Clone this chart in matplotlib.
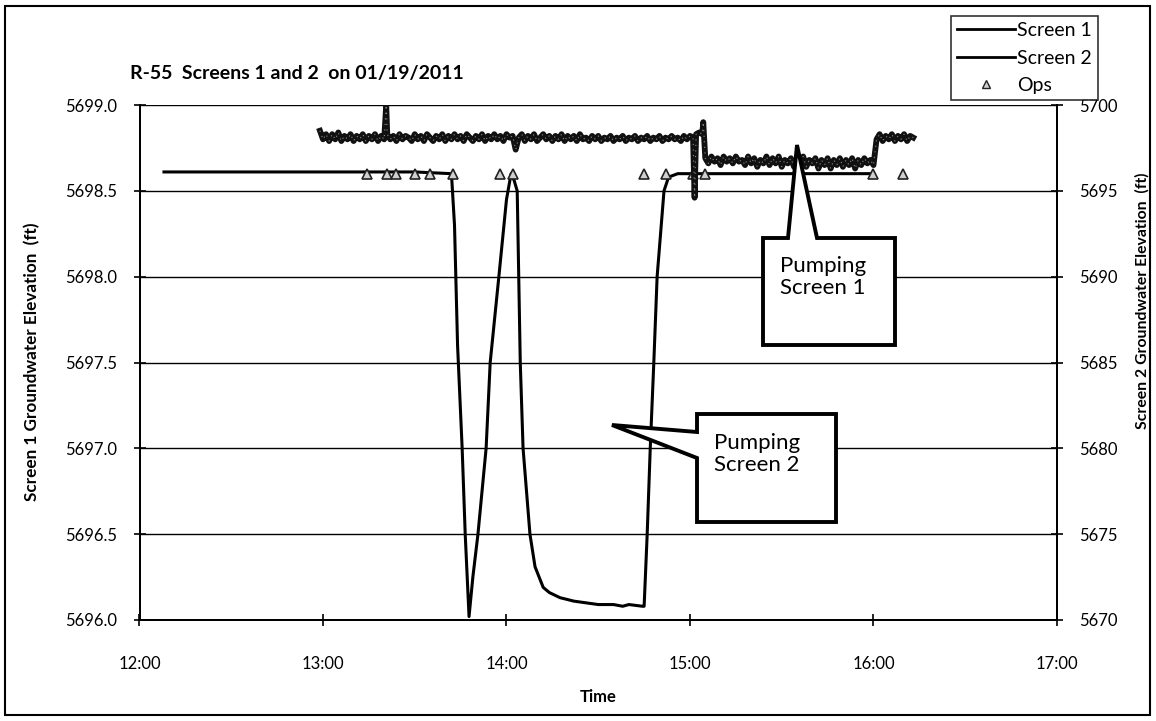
import numpy as np
import matplotlib
matplotlib.use("Agg")
import matplotlib.pyplot as plt
from matplotlib.patches import Polygon, Rectangle
from matplotlib.lines import Line2D

plt.rcParams['font.family'] = ['Lato', 'DejaVu Sans']

# ---- data ----
title = "R-55  Screens 1 and 2  on 01/19/2011"

# Screen 1 (left axis), times as HH:MM:SS
s1_times = ["12:08:00", "12:30:00", "13:00:00", "13:30:00", "13:42:00", "13:43:00",
            "13:44:00", "13:45:30", "13:46:30", "13:47:45", "13:49:00", "13:50:40",
            "13:53:20", "13:54:40", "13:57:30", "14:00:00", "14:01:30", "14:02:30",
            "14:03:30", "14:04:00", "14:04:30", "14:05:25", "14:07:40", "14:09:20",
            "14:12:00", "14:14:00", "14:17:30", "14:22:00", "14:26:00", "14:30:00",
            "14:35:00", "14:38:00", "14:40:00", "14:44:30", "14:45:00", "14:46:00",
            "14:47:00", "14:48:10", "14:49:15", "14:51:30", "14:53:00", "14:56:00",
            "15:00:00", "15:30:00", "16:00:00"]
s1_vals = [5698.61, 5698.61, 5698.61, 5698.61, 5698.60, 5698.30,
           5697.60, 5697.00, 5696.50, 5696.02, 5696.25, 5696.50,
           5697.00, 5697.50, 5698.00, 5698.45, 5698.60, 5698.56,
           5698.50, 5698.00, 5697.50, 5697.00, 5696.50, 5696.31,
           5696.19, 5696.16, 5696.13, 5696.11, 5696.10, 5696.09,
           5696.09, 5696.08, 5696.09, 5696.08, 5696.08, 5696.50,
           5697.00, 5697.50, 5698.00, 5698.50, 5698.58, 5698.60,
           5698.60, 5698.60, 5698.60]

# Screen 2 (right axis), one reading per minute starting 12:59
s2_start = "12:59:00"
s2_vals = [
    # 12:59 - 13:20
    5698.5, 5698.0, 5698.3, 5697.9, 5698.3, 5698.0, 5698.4, 5697.9, 5698.2, 5698.0,
    5698.3, 5697.9, 5698.2, 5698.0, 5698.3, 5697.9, 5698.2, 5698.0, 5698.3, 5697.9,
    5698.2, 5698.0,
    # 13:21 - 14:00
    5698.3, 5698.0, 5698.2, 5697.9, 5698.3, 5698.0, 5698.2, 5698.1, 5697.9, 5698.3,
    5698.0, 5698.2, 5697.9, 5698.3, 5698.1, 5697.9, 5698.2, 5698.0, 5698.3, 5697.9,
    5698.2, 5698.0, 5698.3, 5698.0, 5698.2, 5697.9, 5698.3, 5698.1, 5697.9, 5698.2,
    5698.0, 5698.3, 5697.9, 5698.2, 5698.0, 5698.3, 5698.0, 5698.2, 5697.9, 5698.3,
    # 14:01 - 14:40
    5698.1, 5698.2, 5697.4, 5698.1, 5698.3, 5697.9, 5698.2, 5698.0, 5698.3, 5697.9,
    5698.1, 5698.3, 5698.0, 5698.2, 5697.9, 5698.2, 5698.0, 5698.3, 5697.9, 5698.2,
    5698.0, 5698.2, 5697.9, 5698.3, 5698.0, 5698.1, 5697.9, 5698.2, 5698.0, 5698.2,
    5697.9, 5698.1, 5698.0, 5698.2, 5697.9, 5698.1, 5698.0, 5698.2, 5697.9, 5698.1,
    # 14:41 - 15:04
    5698.0, 5698.2, 5697.9, 5698.1, 5698.0, 5698.2, 5697.9, 5698.1, 5698.0, 5698.2,
    5697.9, 5698.1, 5698.0, 5698.2, 5698.0, 5698.1, 5697.9, 5698.2, 5698.0, 5698.2,
    5698.1, 5698.3, 5698.4, 5698.3,
    # 15:05 - 15:59
    5696.9, 5696.6, 5697.0, 5696.7, 5696.9, 5696.5, 5697.0, 5696.7, 5696.9, 5696.6,
    5697.0, 5696.7, 5696.8, 5696.5, 5697.0, 5696.6, 5696.9, 5696.4, 5696.8, 5696.6,
    5697.0, 5696.5, 5696.9, 5696.6, 5697.0, 5696.4, 5696.8, 5696.6, 5696.9, 5696.4,
    5696.8, 5696.5, 5697.0, 5696.4, 5696.8, 5696.6, 5696.9, 5696.3, 5696.8, 5696.5,
    5696.9, 5696.3, 5696.8, 5696.5, 5696.9, 5696.4, 5696.8, 5696.5, 5696.9, 5696.3,
    5696.8, 5696.5, 5696.9, 5696.6, 5696.8,
    # 16:00 - 16:13
    5696.5, 5698.0, 5698.3, 5697.9, 5698.2, 5698.0, 5698.3, 5697.9, 5698.2, 5698.0,
    5698.3, 5697.9, 5698.2, 5698.1,
]
# short excursions in Screen 2 between the minute readings
s2_spike_times = ["13:20:40", "15:01:30", "15:04:20"]
s2_spike_vals = [5700.0, 5694.6, 5699.0]

# field operations markers (plotted on Screen 1 axis)
ops_times = ["13:14:30", "13:21:00", "13:24:00", "13:30:00", "13:35:00", "13:42:30",
             "13:58:00", "14:02:00", "14:45:00", "14:52:00", "15:01:00", "15:05:00",
             "16:00:00", "16:09:30"]
ops_vals = [5698.6] * len(ops_times)

xticks = [12, 13, 14, 15, 16, 17]
xtick_labels = ["12:00", "13:00", "14:00", "15:00", "16:00", "17:00"]
left_ticks = [5696.0, 5696.5, 5697.0, 5697.5, 5698.0, 5698.5, 5699.0]
right_ticks = [5670, 5675, 5680, 5685, 5690, 5695, 5700]


def to_hours(s):
    h, m, sec = [float(p) for p in s.split(":")]
    return h + m / 60.0 + sec / 3600.0


def main():
    t1 = np.array([to_hours(s) for s in s1_times])
    v1 = np.array(s1_vals)

    t0 = to_hours(s2_start)
    t2 = t0 + np.arange(len(s2_vals)) / 60.0
    v2 = np.array(s2_vals)
    ts = np.array([to_hours(s) for s in s2_spike_times])
    t2 = np.concatenate([t2, ts])
    v2 = np.concatenate([v2, s2_spike_vals])
    order = np.argsort(t2)
    t2, v2 = t2[order], v2[order]

    to = np.array([to_hours(s) for s in ops_times])

    W, H = 1156, 721
    fig = plt.figure(figsize=(W / 100, H / 100), dpi=100)

    def px(x, y):
        return (x / W, 1 - y / H)

    # outer chart frame
    fig.add_artist(Rectangle((5 / W, 6 / H), 1145 / W, 709 / H, transform=fig.transFigure,
                             fill=False, edgecolor="black", linewidth=1.5))

    ax = fig.add_axes([139.5 / W, 101 / H, 917.5 / W, 515 / H])
    ax2 = ax.twinx()

    ax.set_xlim(12, 17)
    ax.set_ylim(5696.0, 5699.0)
    ax2.set_ylim(5670, 5700)

    ax.yaxis.grid(True, color="black", linewidth=1.0)
    ax.set_axisbelow(True)

    ax.plot(t1, v1, color="black", linewidth=2.2, zorder=3)
    ax2.plot(t2, v2, color="#111111", linewidth=4.2, zorder=3)
    ax2.plot(t2, v2, color="#8c8c8c", linewidth=0.8, linestyle=(0, (1, 4)), zorder=3)
    ax.plot(to, ops_vals, linestyle="none", marker="^", markersize=7,
            markerfacecolor="#d0d0d0", markeredgecolor="#222222",
            markeredgewidth=1.2, zorder=4)

    ax.set_xticks(xticks)
    ax.set_xticklabels(xtick_labels)
    ax.set_yticks(left_ticks)
    ax.set_yticklabels([f"{v:.1f}" for v in left_ticks])
    ax2.set_yticks(right_ticks)
    ax2.set_yticklabels([str(v) for v in right_ticks])

    for a in (ax, ax2):
        a.tick_params(labelsize=12, length=8, width=1.2, direction="inout",
                      colors="black")
        for sp in a.spines.values():
            sp.set_linewidth(1.4)
            sp.set_color("black")
        a.spines["top"].set_visible(False)
    ax.tick_params(axis="y", pad=12)
    ax2.tick_params(axis="y", pad=12)
    ax.tick_params(axis="x", pad=22)

    # axis titles placed where they sit on the original
    fig.text(*px(598, 697), "Time", fontsize=12, fontweight="bold",
             ha="center", va="center")
    fig.text(*px(32, 362), "Screen 1 Groundwater Elevation  (ft)", fontsize=12.3,
             fontweight="bold", rotation=90, ha="center", va="center")
    fig.text(*px(1142, 301), "Screen 2 Groundwater Elevation  (ft)", fontsize=11.3,
             fontweight="bold", rotation=90, ha="center", va="center")

    fig.text(*px(130, 73), title, fontsize=14, fontweight="bold",
             va="center", ha="left")

    # callouts, built in pixel space of the figure
    call2 = [(697, 414), (836, 414), (836, 522), (697, 522), (697, 458),
             (612, 425), (697, 432)]
    call1 = [(763, 238), (788, 238), (797, 145), (817, 238), (895, 238),
             (895, 345), (763, 345)]
    for pts in (call1, call2):
        fig.add_artist(Polygon([px(x, y) for x, y in pts], closed=True,
                               transform=fig.transFigure, facecolor="white",
                               edgecolor="black", linewidth=2.8, zorder=10))
    fig.text(*px(714, 454), "Pumping\nScreen 2", fontsize=16,
             va="center", ha="left", linespacing=1.15, zorder=11)
    fig.text(*px(780, 277), "Pumping\nScreen 1", fontsize=16,
             va="center", ha="left", linespacing=1.15, zorder=11)

    handles = [Line2D([], [], color="black", linewidth=2.0),
               Line2D([], [], color="black", linewidth=2.0),
               Line2D([], [], linestyle="none", marker="^", markersize=6,
                      markerfacecolor="#d0d0d0", markeredgecolor="#222222")]
    leg = fig.legend(handles, ["Screen 1", "Screen 2", "Ops"],
                     loc="upper right", bbox_to_anchor=px(1098, 16),
                     fontsize=14, frameon=True, fancybox=False,
                     borderpad=0.3, labelspacing=0.55, handlelength=3.0,
                     handletextpad=0.1, borderaxespad=0)
    leg.get_frame().set_edgecolor("black")
    leg.get_frame().set_linewidth(1.2)

    fig.savefig("out.png", dpi=100)


if __name__ == "__main__":
    main()
